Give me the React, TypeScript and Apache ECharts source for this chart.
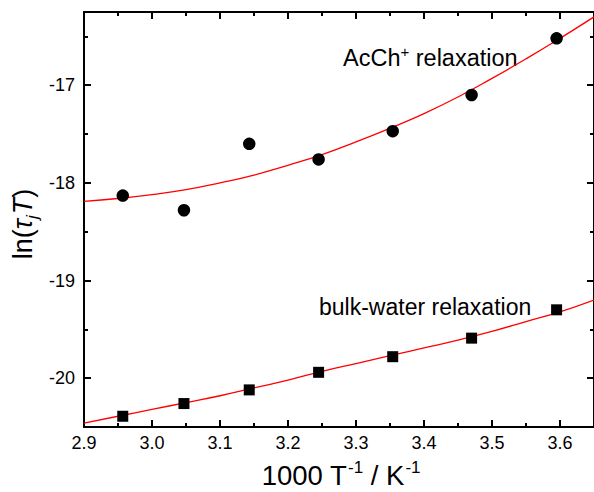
import React, { useEffect, useRef } from 'react';
import * as echarts from 'echarts';

const FONT = '"Liberation Sans", Arial, Helvetica, sans-serif';

// 1000/T values (K^-1) of the measured temperatures
const xValues = [2.957, 3.047, 3.143, 3.245, 3.354, 3.47, 3.595];
// AcCh+ relaxation, ln(tau_j T)
const acchValues = [-18.13, -18.28, -17.6, -17.76, -17.47, -17.1, -16.52];
// bulk-water relaxation, ln(tau_j T)
const waterValues = [-20.39, -20.26, -20.12, -19.94, -19.78, -19.59, -19.3];

// fitted curves
const fitX = [2.9, 2.95, 3.0, 3.05, 3.1, 3.15, 3.2, 3.25, 3.3, 3.35, 3.4, 3.45, 3.5, 3.55, 3.6, 3.65];
const acchFit = [-18.19, -18.16, -18.12, -18.07, -18.0, -17.92, -17.82, -17.71, -17.58, -17.44, -17.29, -17.12, -16.93, -16.73, -16.52, -16.3];
const waterFit = [-20.46, -20.39, -20.32, -20.25, -20.18, -20.1, -20.02, -19.93, -19.85, -19.77, -19.69, -19.61, -19.52, -19.42, -19.32, -19.2];

// axis ticks
const xMin = 2.9;
const xMax = 3.65;
const yMin = -20.5;
const yMax = -16.25;
const xMajorTicks = [2.9, 3.0, 3.1, 3.2, 3.3, 3.4, 3.5, 3.6];
const xMinorTicks = [2.95, 3.05, 3.15, 3.25, 3.35, 3.45, 3.55, 3.65];
const yMajorTicks = [-20, -19, -18, -17];
const yMinorTicks = [-20.5, -19.5, -18.5, -17.5, -16.5];

const MAJOR_LEN = 7;
const MINOR_LEN = 4;

function makeAxis(kind: 'x' | 'y', position: string, ticks: number[], len: number, labels: boolean, line: boolean) {
  return {
    type: 'value',
    position,
    min: kind === 'x' ? xMin : yMin,
    max: kind === 'x' ? xMax : yMax,
    scale: true,
    splitLine: { show: false },
    axisLine: { show: line, onZero: false, lineStyle: { color: '#000', width: 2 } },
    axisTick: {
      show: true,
      inside: true,
      length: len,
      customValues: ticks,
      lineStyle: { color: '#000', width: 2 },
    },
    axisLabel: labels
      ? {
          show: true,
          customValues: ticks,
          color: '#000',
          fontSize: 18,
          fontFamily: FONT,
          margin: kind === 'x' ? 7 : 9,
          formatter: (v: number) => (kind === 'x' ? v.toFixed(1) : String(Math.round(v))),
        }
      : { show: false },
  };
}

export default function App() {
  const ref = useRef<HTMLDivElement>(null);
  useEffect(() => {
    const chart = echarts.init(ref.current!, null, { renderer: 'svg' });
    const option = {
      animation: false,
      backgroundColor: '#fff',
      grid: { left: 84, top: 12, right: -5, bottom: 65, containLabel: false },
      xAxis: [
        makeAxis('x', 'bottom', xMajorTicks, MAJOR_LEN, true, true),
        makeAxis('x', 'bottom', xMinorTicks, MINOR_LEN, false, false),
        makeAxis('x', 'top', xMajorTicks, MAJOR_LEN, false, true),
        makeAxis('x', 'top', xMinorTicks, MINOR_LEN, false, false),
      ],
      yAxis: [
        makeAxis('y', 'left', yMajorTicks, MAJOR_LEN, true, true),
        makeAxis('y', 'left', yMinorTicks, MINOR_LEN, false, false),
        makeAxis('y', 'right', yMajorTicks, MAJOR_LEN, false, true),
        makeAxis('y', 'right', yMinorTicks, MINOR_LEN, false, false),
      ],
      series: [
        {
          type: 'line',
          xAxisIndex: 0,
          yAxisIndex: 0,
          data: fitX.map((x, i) => [x, acchFit[i]]),
          smooth: true,
          showSymbol: false,
          symbol: 'none',
          lineStyle: { color: '#ff0000', width: 1.3 },
          z: 2,
        },
        {
          type: 'line',
          xAxisIndex: 0,
          yAxisIndex: 0,
          data: fitX.map((x, i) => [x, waterFit[i]]),
          smooth: true,
          showSymbol: false,
          symbol: 'none',
          lineStyle: { color: '#ff0000', width: 1.3 },
          z: 2,
        },
        {
          type: 'scatter',
          xAxisIndex: 0,
          yAxisIndex: 0,
          data: xValues.map((x, i) => [x, acchValues[i]]),
          symbol: 'circle',
          symbolSize: 12.5,
          itemStyle: { color: '#000', opacity: 1 },
          z: 5,
        },
        {
          type: 'scatter',
          xAxisIndex: 0,
          yAxisIndex: 0,
          data: xValues.map((x, i) => [x, waterValues[i]]),
          symbol: 'rect',
          symbolSize: 11,
          itemStyle: { color: '#000', opacity: 1 },
          z: 5,
        },
      ],
      graphic: [
        {
          type: 'text',
          x: 343,
          y: 56,
          style: {
            text: '{n|AcCh}{sup|+}{n| relaxation}',
            fill: '#000',
            align: 'left',
            verticalAlign: 'middle',
            rich: {
              n: { fontSize: 23.5, fontFamily: FONT, fill: '#000', lineHeight: 27, verticalAlign: 'bottom' },
              sup: { fontSize: 15, fontFamily: FONT, fill: '#000', lineHeight: 15, verticalAlign: 'top', padding: [1, 0, 0, 0] },
            },
          },
        },
        {
          type: 'text',
          x: 319,
          y: 307,
          style: {
            text: 'bulk-water relaxation',
            fill: '#000',
            font: `23px ${FONT}`,
            align: 'left',
            verticalAlign: 'middle',
          },
        },
        {
          type: 'text',
          x: 341,
          y: 474,
          style: {
            text: '{n|1000 T}{sup|-1}{n| / K}{sup|-1}',
            fill: '#000',
            align: 'center',
            verticalAlign: 'middle',
            rich: {
              n: { fontSize: 27.5, fontFamily: FONT, fill: '#000', lineHeight: 31, verticalAlign: 'bottom' },
              sup: { fontSize: 17, fontFamily: FONT, fill: '#000', lineHeight: 17, verticalAlign: 'top', padding: [0, 0, 0, 1] },
            },
          },
        },
        {
          type: 'text',
          x: 25,
          y: 224,
          rotation: Math.PI / 2,
          style: {
            text: '{n|ln(}{i|τ}{sub|j}{i|T}{n|)}',
            fill: '#000',
            align: 'center',
            verticalAlign: 'middle',
            rich: {
              n: { fontSize: 27, fontFamily: FONT, fill: '#000', lineHeight: 31, verticalAlign: 'top' },
              i: { fontSize: 27, fontFamily: FONT, fontStyle: 'italic', fill: '#000', lineHeight: 31, verticalAlign: 'top' },
              sub: { fontSize: 17, fontFamily: FONT, fontStyle: 'italic', fill: '#000', lineHeight: 17, verticalAlign: 'bottom', padding: [0, 1, 0, 0] },
            },
          },
        },
      ],
    };
    chart.setOption(option as any);
    return () => chart.dispose();
  }, []);
  return (
    <div style={{ position: 'fixed', left: 0, top: 0, width: 594, height: 492, overflow: 'hidden', background: '#fff' }}>
      <div ref={ref} style={{ width: 594, height: 492 }} />
    </div>
  );
}
